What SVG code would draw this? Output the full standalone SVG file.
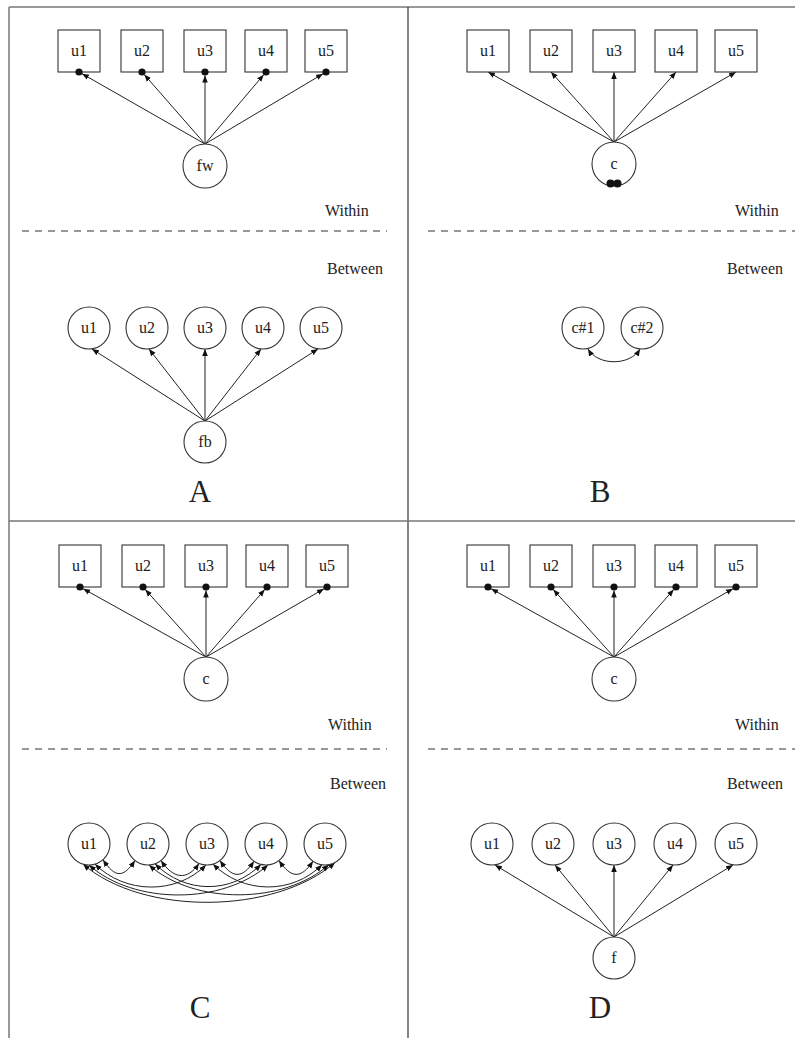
<svg xmlns="http://www.w3.org/2000/svg" width="795" height="1038" viewBox="0 0 795 1038">
<style>
.bg{fill:#fff}
.frame{stroke:#777;stroke-width:1.5;fill:none}
.div{stroke:#333;stroke-width:1.2;fill:none}
.dash{stroke:#333;stroke-width:1;stroke-dasharray:7 6;fill:none}
.box,.node{fill:#fff;stroke:#333;stroke-width:1.1}
.dot{fill:#111}
.t{font-family:"Liberation Serif","Times New Roman",serif;font-size:16px;fill:#222;text-anchor:middle}
.side{font-family:"Liberation Serif","Times New Roman",serif;font-size:16px;fill:#222}
.big{font-family:"Liberation Serif","Times New Roman",serif;font-size:31px;fill:#222;text-anchor:middle}
.e{stroke:#222;stroke-width:1;fill:none;marker-end:url(#ah)}
.d{stroke:#222;stroke-width:1;fill:none;marker-start:url(#ah);marker-end:url(#ah)}
</style>
<defs>
<marker id="ah" viewBox="0 0 10 10" refX="10" refY="5" markerWidth="7" markerHeight="7" markerUnits="userSpaceOnUse" orient="auto-start-reverse">
<path d="M0,1 L10,5 L0,9 z" fill="#111"/>
</marker>
</defs>
<rect class="bg" x="0" y="0" width="795" height="1038"/>
<g id="frame">
<line class="frame" x1="9" y1="7" x2="795" y2="7"/>
<line class="frame" x1="9" y1="7" x2="9" y2="1038"/>
<line class="div" x1="408" y1="7" x2="408" y2="1038"/>
<line class="frame" x1="9" y1="521" x2="795" y2="521"/>
<line class="dash" x1="22" y1="231" x2="387" y2="231"/>
<line class="dash" x1="428" y1="231" x2="795" y2="231"/>
<line class="dash" x1="22" y1="749" x2="387" y2="749"/>
<line class="dash" x1="428" y1="749" x2="795" y2="749"/>
</g>
<g id="labels">
<text class="side" x="325" y="216">Within</text>
<text class="side" x="327" y="274">Between</text>
<text class="side" x="735" y="216">Within</text>
<text class="side" x="727" y="274">Between</text>
<text class="side" x="328" y="730">Within</text>
<text class="side" x="330" y="789">Between</text>
<text class="side" x="735" y="730">Within</text>
<text class="side" x="727" y="789">Between</text>
<text class="big" x="200" y="502">A</text>
<text class="big" x="600" y="502">B</text>
<text class="big" x="200" y="1018">C</text>
<text class="big" x="600" y="1018">D</text>
</g>
<g id="connectors">
<line class="e" x1="205" y1="144" x2="82" y2="73.7"/>
<line class="e" x1="205" y1="144" x2="144.3" y2="74.6"/>
<line class="e" x1="205" y1="144" x2="205" y2="75.5"/>
<line class="e" x1="205" y1="144" x2="263.7" y2="74.7"/>
<line class="e" x1="205" y1="144" x2="323" y2="73.8"/>
<line class="e" x1="205" y1="421" x2="92" y2="349"/>
<line class="e" x1="205" y1="421" x2="149" y2="349"/>
<line class="e" x1="205" y1="421" x2="205" y2="349"/>
<line class="e" x1="205" y1="421" x2="261" y2="349"/>
<line class="e" x1="205" y1="421" x2="318" y2="349"/>
<line class="e" x1="614" y1="142" x2="488" y2="72"/>
<line class="e" x1="614" y1="142" x2="551" y2="72"/>
<line class="e" x1="614" y1="142" x2="614" y2="72"/>
<line class="e" x1="614" y1="142" x2="676" y2="72"/>
<line class="e" x1="614" y1="142" x2="736" y2="72"/>
<path class="d" d="M588,349 C598,366 630,366 640,349"/>
<line class="e" x1="206" y1="657" x2="83.1" y2="588.7"/>
<line class="e" x1="206" y1="657" x2="145.3" y2="589.6"/>
<line class="e" x1="206" y1="657" x2="206" y2="590.5"/>
<line class="e" x1="206" y1="657" x2="264.7" y2="589.6"/>
<line class="e" x1="206" y1="657" x2="324" y2="588.8"/>
<path class="d" d="M103,859.7 C115,877.7 123,878.5 135,860.5"/>
<path class="d" d="M161,860.5 C173,878.5 187,881.4 199,863.4"/>
<path class="d" d="M220,860.5 C232,878.5 242,879.2 254,861.2"/>
<path class="d" d="M279,860.5 C291,878.5 301,879.2 313,861.2"/>
<path class="d" d="M95,864.1 C125,894.1 176,895 206,865"/>
<path class="d" d="M155,863.8 C185,893.8 231,894.4 261,864.4"/>
<path class="d" d="M213,864.1 C243,894.1 292,894.8 322,864.8"/>
<path class="d" d="M89,865 C134,905 223,904.9 268,864.9"/>
<path class="d" d="M149,865 C194,905 284,904.6 329,864.6"/>
<path class="d" d="M83,864.1 C143,916.1 275,914.5 335,862.5"/>
<line class="e" x1="614" y1="657" x2="491.1" y2="588.7"/>
<line class="e" x1="614" y1="657" x2="553.3" y2="589.6"/>
<line class="e" x1="614" y1="657" x2="614" y2="590.5"/>
<line class="e" x1="614" y1="657" x2="673.7" y2="589.6"/>
<line class="e" x1="614" y1="657" x2="733" y2="588.7"/>
<line class="e" x1="614" y1="937" x2="495" y2="865"/>
<line class="e" x1="614" y1="937" x2="555" y2="865"/>
<line class="e" x1="614" y1="937" x2="614" y2="865"/>
<line class="e" x1="614" y1="937" x2="673" y2="865"/>
<line class="e" x1="614" y1="937" x2="733" y2="865"/>
</g>
<g id="A_w_u1"><rect class="box" x="58" y="30" width="42" height="42"/><text class="t" x="79" y="56">u1</text><circle class="dot" cx="79" cy="72" r="3.6"/></g>
<g id="A_w_u2"><rect class="box" x="121" y="30" width="42" height="42"/><text class="t" x="142" y="56">u2</text><circle class="dot" cx="142" cy="72" r="3.6"/></g>
<g id="A_w_u3"><rect class="box" x="184" y="30" width="42" height="42"/><text class="t" x="205" y="56">u3</text><circle class="dot" cx="205" cy="72" r="3.6"/></g>
<g id="A_w_u4"><rect class="box" x="245" y="30" width="42" height="42"/><text class="t" x="266" y="56">u4</text><circle class="dot" cx="266" cy="72" r="3.6"/></g>
<g id="A_w_u5"><rect class="box" x="305" y="30" width="42" height="42"/><text class="t" x="326" y="56">u5</text><circle class="dot" cx="326" cy="72" r="3.6"/></g>
<g id="A_fw"><circle class="node" cx="205" cy="166" r="22"/><text class="t" x="205" y="171">fw</text></g>
<g id="A_b_u1"><circle class="node" cx="89" cy="328" r="21"/><text class="t" x="89" y="333">u1</text></g>
<g id="A_b_u2"><circle class="node" cx="147" cy="328" r="21"/><text class="t" x="147" y="333">u2</text></g>
<g id="A_b_u3"><circle class="node" cx="205" cy="328" r="21"/><text class="t" x="205" y="333">u3</text></g>
<g id="A_b_u4"><circle class="node" cx="263" cy="328" r="21"/><text class="t" x="263" y="333">u4</text></g>
<g id="A_b_u5"><circle class="node" cx="321" cy="328" r="21"/><text class="t" x="321" y="333">u5</text></g>
<g id="A_fb"><circle class="node" cx="205" cy="442" r="21"/><text class="t" x="205" y="447">fb</text></g>
<g id="B_w_u1"><rect class="box" x="467" y="30" width="42" height="42"/><text class="t" x="488" y="56">u1</text></g>
<g id="B_w_u2"><rect class="box" x="530" y="30" width="42" height="42"/><text class="t" x="551" y="56">u2</text></g>
<g id="B_w_u3"><rect class="box" x="593" y="30" width="42" height="42"/><text class="t" x="614" y="56">u3</text></g>
<g id="B_w_u4"><rect class="box" x="655" y="30" width="42" height="42"/><text class="t" x="676" y="56">u4</text></g>
<g id="B_w_u5"><rect class="box" x="715" y="30" width="42" height="42"/><text class="t" x="736" y="56">u5</text></g>
<g id="B_c"><circle class="node" cx="614" cy="164" r="22"/><text class="t" x="614" y="169">c</text><circle class="dot" cx="610.5" cy="183.5" r="4"/><circle class="dot" cx="617.5" cy="183.5" r="4"/></g>
<g id="B_c1"><circle class="node" cx="583" cy="328" r="21"/><text class="t" x="583" y="333">c#1</text></g>
<g id="B_c2"><circle class="node" cx="642" cy="328" r="21"/><text class="t" x="642" y="333">c#2</text></g>
<g id="C_w_u1"><rect class="box" x="59" y="545" width="42" height="42"/><text class="t" x="80" y="571">u1</text><circle class="dot" cx="80" cy="587" r="3.6"/></g>
<g id="C_w_u2"><rect class="box" x="122" y="545" width="42" height="42"/><text class="t" x="143" y="571">u2</text><circle class="dot" cx="143" cy="587" r="3.6"/></g>
<g id="C_w_u3"><rect class="box" x="185" y="545" width="42" height="42"/><text class="t" x="206" y="571">u3</text><circle class="dot" cx="206" cy="587" r="3.6"/></g>
<g id="C_w_u4"><rect class="box" x="246" y="545" width="42" height="42"/><text class="t" x="267" y="571">u4</text><circle class="dot" cx="267" cy="587" r="3.6"/></g>
<g id="C_w_u5"><rect class="box" x="306" y="545" width="42" height="42"/><text class="t" x="327" y="571">u5</text><circle class="dot" cx="327" cy="587" r="3.6"/></g>
<g id="C_c"><circle class="node" cx="206" cy="679" r="22"/><text class="t" x="206" y="684">c</text></g>
<g id="C_b_u1"><circle class="node" cx="89" cy="844" r="21"/><text class="t" x="89" y="849">u1</text></g>
<g id="C_b_u2"><circle class="node" cx="148" cy="844" r="21"/><text class="t" x="148" y="849">u2</text></g>
<g id="C_b_u3"><circle class="node" cx="207" cy="844" r="21"/><text class="t" x="207" y="849">u3</text></g>
<g id="C_b_u4"><circle class="node" cx="266" cy="844" r="21"/><text class="t" x="266" y="849">u4</text></g>
<g id="C_b_u5"><circle class="node" cx="325" cy="844" r="21"/><text class="t" x="325" y="849">u5</text></g>
<g id="D_w_u1"><rect class="box" x="467" y="545" width="42" height="42"/><text class="t" x="488" y="571">u1</text><circle class="dot" cx="488" cy="587" r="3.6"/></g>
<g id="D_w_u2"><rect class="box" x="530" y="545" width="42" height="42"/><text class="t" x="551" y="571">u2</text><circle class="dot" cx="551" cy="587" r="3.6"/></g>
<g id="D_w_u3"><rect class="box" x="593" y="545" width="42" height="42"/><text class="t" x="614" y="571">u3</text><circle class="dot" cx="614" cy="587" r="3.6"/></g>
<g id="D_w_u4"><rect class="box" x="655" y="545" width="42" height="42"/><text class="t" x="676" y="571">u4</text><circle class="dot" cx="676" cy="587" r="3.6"/></g>
<g id="D_w_u5"><rect class="box" x="715" y="545" width="42" height="42"/><text class="t" x="736" y="571">u5</text><circle class="dot" cx="736" cy="587" r="3.6"/></g>
<g id="D_c"><circle class="node" cx="614" cy="679" r="22"/><text class="t" x="614" y="684">c</text></g>
<g id="D_b_u1"><circle class="node" cx="492" cy="844" r="21"/><text class="t" x="492" y="849">u1</text></g>
<g id="D_b_u2"><circle class="node" cx="553" cy="844" r="21"/><text class="t" x="553" y="849">u2</text></g>
<g id="D_b_u3"><circle class="node" cx="614" cy="844" r="21"/><text class="t" x="614" y="849">u3</text></g>
<g id="D_b_u4"><circle class="node" cx="675" cy="844" r="21"/><text class="t" x="675" y="849">u4</text></g>
<g id="D_b_u5"><circle class="node" cx="736" cy="844" r="21"/><text class="t" x="736" y="849">u5</text></g>
<g id="D_f"><circle class="node" cx="614" cy="958" r="21"/><text class="t" x="614" y="963">f</text></g>
</svg>
